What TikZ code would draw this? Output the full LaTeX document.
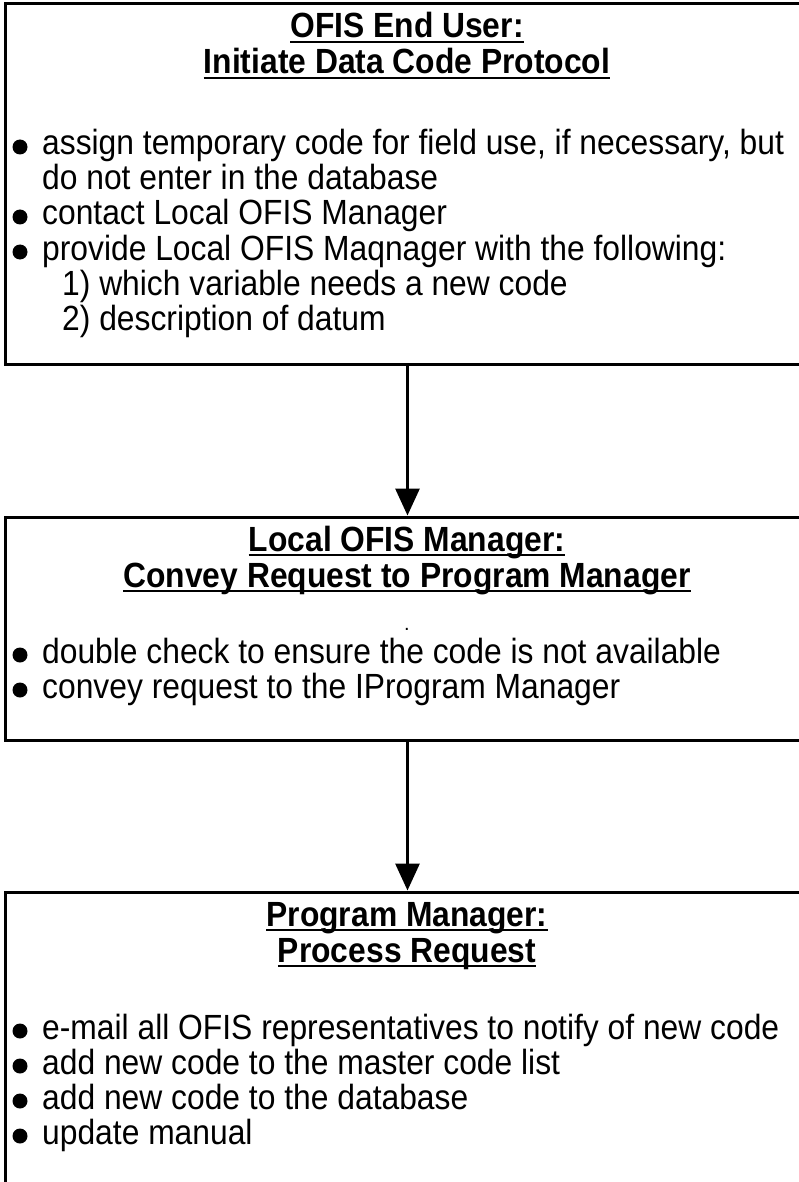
\documentclass[tikz,border=0pt]{standalone}
\usepackage{fontspec}
\setmainfont{Liberation Sans}
\usetikzlibrary{arrows.meta}
\newcommand{\tall}[1]{\scalebox{1}[1.1]{#1}}

\begin{document}
\begin{tikzpicture}[x=1pt, y=-1pt,
    box/.style  = {draw, line width=3pt, minimum width=805pt, inner sep=0pt},
    head/.style = {anchor=base, inner sep=0pt, font=\fontsize{31.8}{35}\selectfont\bfseries},
    item/.style = {anchor=base west, inner sep=0pt, font=\fontsize{31.8}{35}\selectfont},
    flow/.style = {line width=3pt, -{Triangle[length=27pt, width=24pt]}},
    uline/.style = {line width=2.5pt}]
        \clip (0,0) rectangle (799,1182);
        % the three boxes
        \node[box, minimum height=360pt] (enduser)  at (407.5, 184)   {};
        \node[box, minimum height=223pt] (localmgr) at (407.5, 628.5) {};
        \node[box, minimum height=330pt] (progmgr)  at (407.5, 1057)  {};
        \draw[flow] (enduser)  -- (localmgr);
        \draw[flow] (localmgr) -- (progmgr);
        % OFIS end user
        \node[head] (h1a) at (407, 38) {\tall{OFIS End User:}};
        \node[head] (h1b) at (407, 74) {\tall{Initiate Data Code Protocol}};
        \draw[uline] ([yshift=-4pt]h1a.base west) -- ([yshift=-4pt]h1a.base east);
        \draw[uline] ([yshift=-4pt]h1b.base west) -- ([yshift=-4pt]h1b.base east);
        \node[item] (u1) at (42, 155) {\tall{assign temporary code for field use, if necessary, but}};
        \node[item] (u2) at (42, 190) {\tall{do not enter in the database}};
        \node[item] (u3) at (42, 225) {\tall{contact Local OFIS Manager}};
        \node[item] (u4) at (42, 260) {\tall{provide Local OFIS Maqnager with the following:}};
        \node[item] (u5) at (62, 295) {\tall{1) which variable needs a new code}};
        \node[item] (u6) at (62, 330) {\tall{2) description of datum}};
        \fill (20, 147) circle (7.5pt);
        \fill (20, 217) circle (7.5pt);
        \fill (20, 252) circle (7.5pt);
        % local OFIS manager
        \node[head] (h2a) at (407, 551) {\tall{Local OFIS Manager:}};
        \node[head] (h2b) at (407, 587) {\tall{Convey Request to Program Manager}};
        \draw[uline] ([yshift=-4pt]h2a.base west) -- ([yshift=-4pt]h2a.base east);
        \draw[uline] ([yshift=-4pt]h2b.base west) -- ([yshift=-4pt]h2b.base east);
        \node[anchor=base, inner sep=0pt, font=\fontsize{20}{22}\selectfont] (dot) at (407, 630) {.};
        \node[item] (l1) at (42, 663) {\tall{double check to ensure the code is not available}};
        \node[item] (l2) at (42, 698) {\tall{convey request to the IProgram Manager}};
        \fill (20, 655) circle (7.5pt);
        \fill (20, 690) circle (7.5pt);
        % program manager
        \node[head] (h3a) at (407, 926) {\tall{Program Manager:}};
        \node[head] (h3b) at (407, 962) {\tall{Process Request}};
        \draw[uline] ([yshift=-4pt]h3a.base west) -- ([yshift=-4pt]h3a.base east);
        \draw[uline] ([yshift=-4pt]h3b.base west) -- ([yshift=-4pt]h3b.base east);
        \node[item] (p1) at (42, 1039) {\tall{e-mail all OFIS representatives to notify of new code}};
        \node[item] (p2) at (42, 1074) {\tall{add new code to the master code list}};
        \node[item] (p3) at (42, 1109) {\tall{add new code to the database}};
        \node[item] (p4) at (42, 1144) {\tall{update manual}};
        \fill (20, 1031) circle (7.5pt);
        \fill (20, 1066) circle (7.5pt);
        \fill (20, 1101) circle (7.5pt);
        \fill (20, 1136) circle (7.5pt);
\end{tikzpicture}
\end{document}
